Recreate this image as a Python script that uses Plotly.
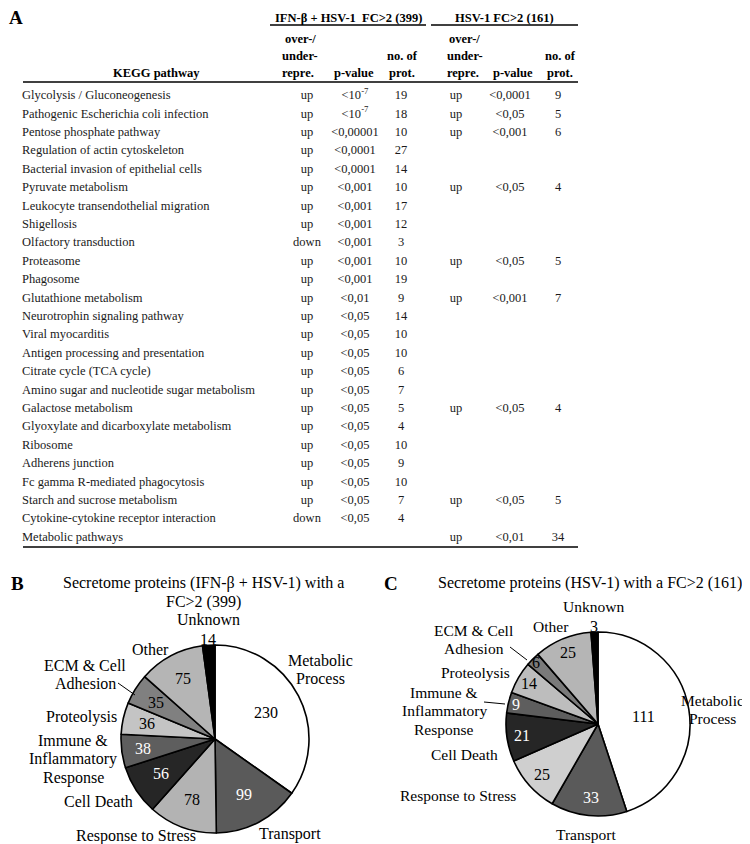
import math
import plotly.graph_objects as go

W, H = 750, 844
SERIF = "Liberation Serif, Times New Roman, serif"

# ---------------- Table data (panel A) ----------------
pathways = [
    "Glycolysis / Gluconeogenesis",
    "Pathogenic Escherichia coli infection",
    "Pentose phosphate pathway",
    "Regulation of actin cytoskeleton",
    "Bacterial invasion of epithelial cells",
    "Pyruvate metabolism",
    "Leukocyte transendothelial migration",
    "Shigellosis",
    "Olfactory transduction",
    "Proteasome",
    "Phagosome",
    "Glutathione metabolism",
    "Neurotrophin signaling pathway",
    "Viral myocarditis",
    "Antigen processing and presentation",
    "Citrate cycle (TCA cycle)",
    "Amino sugar and nucleotide sugar metabolism",
    "Galactose metabolism",
    "Glyoxylate and dicarboxylate metabolism",
    "Ribosome",
    "Adherens junction",
    "Fc gamma R-mediated phagocytosis",
    "Starch and sucrose metabolism",
    "Cytokine-cytokine receptor interaction",
    "Metabolic pathways",
]
ifn_direction = ["up", "up", "up", "up", "up", "up", "up", "up", "down", "up",
                 "up", "up", "up", "up", "up", "up", "up", "up", "up", "up",
                 "up", "up", "up", "down", ""]
ifn_pvalue = ["<10<sup>-7</sup>", "<10<sup>-7</sup>", "<0,00001", "<0,0001", "<0,0001",
              "<0,001", "<0,001", "<0,001", "<0,001", "<0,001", "<0,001", "<0,01",
              "<0,05", "<0,05", "<0,05", "<0,05", "<0,05", "<0,05", "<0,05", "<0,05",
              "<0,05", "<0,05", "<0,05", "<0,05", ""]
ifn_nprot = ["19", "18", "10", "27", "14", "10", "17", "12", "3", "10", "19", "9",
             "14", "10", "10", "6", "7", "5", "4", "10", "9", "10", "7", "4", ""]
hsv_direction = ["up", "up", "up", "", "", "up", "", "", "", "up", "", "up",
                 "", "", "", "", "", "up", "", "", "", "", "up", "", "up"]
hsv_pvalue = ["<0,0001", "<0,05", "<0,001", "", "", "<0,05", "", "", "", "<0,05", "", "<0,001",
              "", "", "", "", "", "<0,05", "", "", "", "", "<0,05", "", "<0,01"]
hsv_nprot = ["9", "5", "6", "", "", "4", "", "", "", "5", "", "7",
             "", "", "", "", "", "4", "", "", "", "", "5", "", "34"]

# ---------------- Pie data (panels B and C) ----------------
pie_categories = ["Metabolic<br>Process", "Transport", "Response to Stress", "Cell Death",
                  "Immune &<br>Inflammatory<br>Response", "Proteolysis",
                  "ECM & Cell<br>Adhesion", "Other", "Unknown"]
pie_b_values = [230, 99, 78, 56, 38, 36, 35, 75, 14]
pie_c_values = [111, 33, 25, 21, 9, 14, 6, 25, 3]
pie_b_title = "Secretome proteins (IFN-β + HSV-1) with a<br>FC>2 (399)"
pie_c_title = "Secretome proteins (HSV-1) with a FC>2 (161)"

# ---------------- Styling / layout constants ----------------
ROW0, ROWH = 88, 18.4
col_x = {"name": 14, "dir1": 299, "p1": 347, "n1": 393, "dir2": 448, "p2": 502, "n2": 550}

b_colors = ["#ffffff", "#5a5a5a", "#b3b3b3", "#262626", "#5e5e5e", "#c4c4c4", "#808080", "#b5b5b5", "#000000"]
c_colors = ["#ffffff", "#5a5a5a", "#cfcfcf", "#262626", "#5e5e5e", "#bdbdbd", "#7a7a7a", "#b5b5b5", "#000000"]
b_txtcol = ["black", "white", "black", "white", "white", "black", "black", "black", "black"]
c_txtcol = ["black", "white", "black", "white", "white", "black", "black", "black", "black"]
b_rfac = [0.61, 0.67, 0.69, 0.68, 0.77, 0.74, 0.74, 0.73, 1.06]
c_rfac = [0.50, 0.80, 0.82, 0.83, 0.92, 0.87, 0.95, 0.84, 1.06]
pie_b_geom = (207, 731, 94)
pie_c_geom = (590, 716, 92)
# label anchor positions (pixels) for each category
b_label_pos = [(312, 652), (282, 826), (128, 828), (90, 793), (65, 732), (73, 709), (77, 657), (142, 641), (200, 611)]
c_label_pos = [(704, 692), (578, 826), (450, 787), (457, 746), (436, 684), (467, 664), (466, 622), (543, 618), (585, 598)]
LINE_GAP = 18.8


def px(x):
    return x / W


def py(y):
    return 1 - y / H


fig = go.Figure()

# ---- Table text via an invisible x/y axis (rows indexed) ----
fig.add_trace(go.Scatter(x=[col_x["name"]] * len(pathways), y=list(range(len(pathways))), text=pathways,
                         mode="text", textposition="middle right",
                         textfont=dict(family=SERIF, size=12.5, color="#1a1a1a"),
                         hoverinfo="skip", showlegend=False))
for key, col in [("dir1", ifn_direction), ("p1", ifn_pvalue), ("n1", ifn_nprot),
                 ("dir2", hsv_direction), ("p2", hsv_pvalue), ("n2", hsv_nprot)]:
    idx = [i for i, t in enumerate(col) if t]
    fig.add_trace(go.Scatter(x=[col_x[key]] * len(idx), y=idx, text=[col[i] for i in idx], mode="text",
                             textposition="middle center",
                             textfont=dict(family=SERIF, size=12.5, color="#1a1a1a"),
                             hoverinfo="skip", showlegend=False))

# ---- Pies ----
for vals, cols, (cx, cy, r) in [(pie_b_values, b_colors, pie_b_geom), (pie_c_values, c_colors, pie_c_geom)]:
    fig.add_trace(go.Pie(
        values=vals, labels=[c.replace("<br>", " ") for c in pie_categories],
        marker=dict(colors=cols, line=dict(color="black", width=1.6)),
        sort=False, direction="clockwise", rotation=0, textinfo="none",
        domain=dict(x=[px(cx - r), px(cx + r)], y=[py(cy + r), py(cy - r)]),
        hoverinfo="skip", showlegend=False))

annotations = []


def add_text(x, y, text, size=16, color="black", xanchor="center", bold=False):
    t = f"<b>{text}</b>" if bold else text
    annotations.append(dict(x=px(x), y=py(y), xref="paper", yref="paper", text=t, showarrow=False,
                            xanchor=xanchor, yanchor="middle", borderpad=0,
                            font=dict(family=SERIF, size=size, color=color)))


# value labels computed from the data angles
for vals, tcols, rfac, (cx, cy, r) in [(pie_b_values, b_txtcol, b_rfac, pie_b_geom),
                                        (pie_c_values, c_txtcol, c_rfac, pie_c_geom)]:
    total = sum(vals)
    cum = 0
    for v, tc, k in zip(vals, tcols, rfac):
        mid = (cum + v / 2) / total * 2 * math.pi
        cum += v
        add_text(cx + k * r * math.sin(mid), cy - k * r * math.cos(mid), str(v), 16, tc)

# category labels
for positions, fs in ((b_label_pos, 16), (c_label_pos, 15.5)):
    for cat, (x, y) in zip(pie_categories, positions):
        lines = cat.split("<br>")
        for j, ln in enumerate(lines):
            add_text(x, y + j * LINE_GAP, ln, fs)

# panel letters and titles
add_text(8, 9, "A", 19, bold=True)
add_text(9, 575, "B", 19, bold=True)
add_text(383, 575, "C", 19, bold=True)
b_lines = pie_b_title.split("<br>")
add_text(196, 575, b_lines[0], 16)
add_text(196, 594, b_lines[1], 16)
add_text(582, 575, pie_c_title, 16)

# table headers
HS = 12.5
add_text(340, 10, "IFN-β + HSV-1\u00a0\u00a0FC>2 (399)", HS, bold=True)
add_text(496, 10, "HSV-1 FC>2 (161)", HS, bold=True)
for cx_dir, cx_p, cx_n in [(292, 346, 394), (457, 505, 552)]:
    add_text(cx_dir, 31, "over-/", HS, bold=True)
    add_text(cx_dir, 48, "under-", HS, bold=True)
    add_text(cx_dir - 2, 65, "repre.", HS, bold=True)
    add_text(cx_p, 65, "p-value", HS, bold=True)
    add_text(cx_n, 48, "no. of", HS, bold=True)
    add_text(cx_n, 65, "prot.", HS, bold=True)
add_text(148, 65, "KEGG pathway", HS, bold=True)

shapes = []


def add_line(x0, y0, x1, y1, w=1.5):
    shapes.append(dict(type="line", xref="paper", yref="paper", x0=px(x0), y0=py(y0), x1=px(x1), y1=py(y1),
                       line=dict(color="black", width=w)))


add_line(262, 17, 418, 17, 1.3)
add_line(423, 17, 570, 17, 1.3)
add_line(15, 74, 570, 74, 1.5)
add_line(15, 539, 570, 539, 1.5)
# leader lines
add_line(110, 675, 127, 687, 1)
add_line(502, 639, 519, 652, 1)
add_line(476, 694, 497, 696, 1)

fig.update_layout(
    width=W, height=H, margin=dict(l=0, r=0, t=0, b=0),
    paper_bgcolor="white", plot_bgcolor="rgba(0,0,0,0)",
    xaxis=dict(range=[0, W], domain=[0, 1], visible=False, fixedrange=True),
    yaxis=dict(range=[(H - ROW0) / ROWH, -ROW0 / ROWH], domain=[0, 1], visible=False, fixedrange=True),
    annotations=annotations, shapes=shapes, showlegend=False,
)

fig.write_html("out.html")
